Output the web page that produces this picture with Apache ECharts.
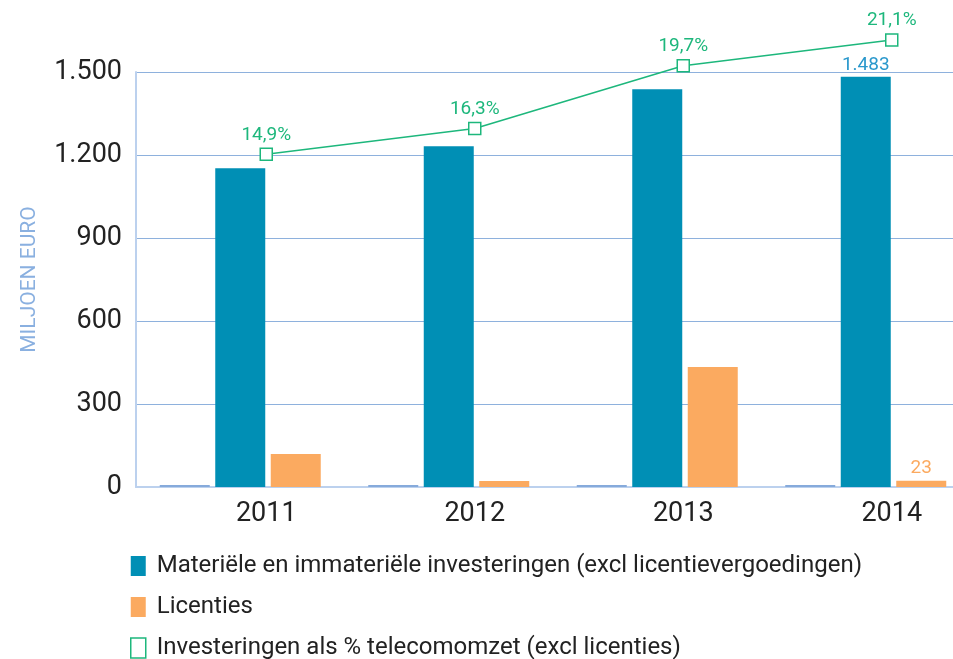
<!DOCTYPE html>
<html>
<head>
<meta charset="utf-8">
<script src="https://cdn.jsdelivr.net/npm/echarts@6/dist/echarts.min.js"></script>
<style>
  html, body { margin: 0; padding: 0; background: #fff; overflow: hidden; }
  #chart { width: 1000px; height: 720px; }
</style>
</head>
<body>
<div id="chart"></div>
<script>
// jaren en waarden (miljoen euro / %)
var years = ['2011', '2012', '2013', '2014'];
var leeg = [0, 0, 0, 0];
var investeringen = [1152, 1232, 1438, 1483];
var licenties = [119, 22, 434, 23];
var percentage = [14.9, 16.3, 19.7, 21.1];
var yTicks = [0, 300, 600, 900, 1200, 1500];

var FONT = "Roboto, sans-serif";
var names = [
    'Materiële en immateriële investeringen (excl licentievergoedingen)',
    'Licenties',
    'Investeringen als % telecomomzet (excl licenties)'
];

function nl(v) {
    return v.toLocaleString('de-DE');
}

var chart = echarts.init(document.getElementById('chart'));
chart.setOption({
    animation: false,
    grid: [
        { left: 136, width: 834, top: 72, height: 415 },
        { left: 162, width: 834, top: 72, height: 415 }
    ],
    legend: {
        orient: 'vertical',
        left: 130,
        top: 554,
        padding: 0,
        itemWidth: 15,
        itemHeight: 20,
        itemGap: 17,
        textStyle: { fontFamily: FONT, fontSize: 24, color: '#222', padding: [0, 0, 0, 6] },
        data: [
            { name: names[0], icon: 'rect' },
            { name: names[1], icon: 'rect' },
            { name: names[2], icon: 'rect', itemStyle: { color: '#fff', borderColor: '#1db77c', borderWidth: 1.5 } }
        ]
    },
    xAxis: [
        {
            type: 'category', gridIndex: 0, data: years,
            axisLine: { lineStyle: { color: '#bcd1ee', width: 2 } },
            axisTick: { inside: true, length: 6, lineStyle: { color: '#bcd1ee', width: 2 } },
            axisLabel: { show: false }
        },
        {
            type: 'category', gridIndex: 1, data: years,
            axisLine: { show: false },
            axisTick: { show: false },
            axisLabel: { fontFamily: FONT, fontSize: 27, color: '#222', margin: 14 }
        }
    ],
    yAxis: [
        {
            type: 'value', gridIndex: 0, min: yTicks[0], max: yTicks[yTicks.length - 1], interval: 300,
            name: 'MILJOEN EURO', nameLocation: 'middle', nameGap: 96,
            nameTextStyle: { fontFamily: FONT, fontSize: 21, color: '#8ab0e0' },
            axisLine: { show: true, lineStyle: { color: '#bcd1ee', width: 2 } },
            axisTick: { show: false },
            axisLabel: { fontFamily: FONT, fontSize: 27, color: '#222', margin: 14, padding: [8, 0, 0, 0], formatter: nl },
            splitLine: { lineStyle: { color: '#8eb1dd', width: 1 } }
        },
        {
            type: 'value', gridIndex: 1, min: -3.15, max: 19.36, show: false,
            splitLine: { show: false }
        }
    ],
    series: [
        {
            type: 'bar', xAxisIndex: 0, yAxisIndex: 0, data: leeg,
            barWidth: 50, barGap: '11%', barMinHeight: 2,
            itemStyle: { color: '#86aadb' }, silent: true
        },
        {
            name: names[0], type: 'bar', xAxisIndex: 0, yAxisIndex: 0, data: investeringen,
            barWidth: 50, barGap: '11%',
            itemStyle: { color: '#008fb5' },
            label: {
                show: true, position: 'top', distance: 2,
                fontFamily: FONT, fontSize: 19, color: '#2a98cc',
                formatter: function (p) { return p.dataIndex === 3 ? nl(p.value) : ''; }
            }
        },
        {
            name: names[1], type: 'bar', xAxisIndex: 0, yAxisIndex: 0, data: licenties,
            barWidth: 50, barGap: '11%',
            itemStyle: { color: '#fbaa60' },
            label: {
                show: true, position: 'top', distance: 3,
                fontFamily: FONT, fontSize: 19, color: '#fbaa60',
                formatter: function (p) { return p.dataIndex === 3 ? nl(p.value) : ''; }
            }
        },
        {
            name: names[2], type: 'line', xAxisIndex: 1, yAxisIndex: 1, data: percentage,
            clip: false,
            symbol: 'rect', symbolSize: 12,
            lineStyle: { color: '#1db77c', width: 1.5 },
            itemStyle: { color: '#fff', borderColor: '#1db77c', borderWidth: 1.5 },
            label: {
                show: true, position: 'top', distance: 3,
                fontFamily: FONT, fontSize: 19, color: '#1db77c',
                formatter: function (p) { return String(p.value).replace('.', ',') + '%'; }
            }
        }
    ]
});
</script>
</body>
</html>
